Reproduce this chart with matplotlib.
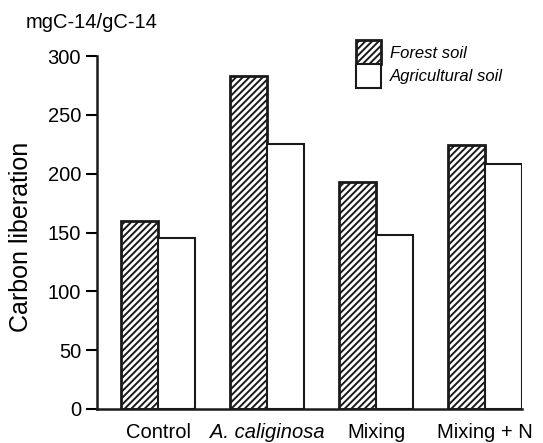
import matplotlib
matplotlib.use("Agg")
import matplotlib.pyplot as plt
from matplotlib.patches import Rectangle
import numpy as np

plt.rcParams['font.family'] = ['Liberation Sans', 'DejaVu Sans']
plt.rcParams['hatch.linewidth'] = 1.4

categories = ["Control", "A. caliginosa", "Mixing", "Mixing + N"]
forest = [160, 283, 193, 224]
agricultural = [145, 225, 148, 208]
yticks = [0, 50, 100, 150, 200, 250, 300]
series_labels = ["Forest soil", "Agricultural soil"]

W, H = 543, 443
fig = plt.figure(figsize=(W/100, H/100), dpi=100)
ax = fig.add_axes([97/W, 34/H, 425/W, 353/H])

x = np.arange(len(categories))
w = 0.34
ax.bar(x - w/2, forest, width=w, facecolor='white', edgecolor='#1a1a1a',
       hatch='/////', linewidth=2.0)
ax.bar(x + w/2, agricultural, width=w, facecolor='white', edgecolor='#1a1a1a',
       linewidth=1.5)

ax.set_xlim(-0.5596, 3.339)
ax.set_ylim(0, 300)
ax.set_yticks(yticks)
ax.set_yticklabels([str(t) for t in yticks], fontsize=14.5)
ax.set_xticks(x)
ax.set_xticklabels(categories, fontsize=14.5)
ax.get_xticklabels()[1].set_style('italic')
ax.tick_params(axis='x', length=0, pad=10)
ax.tick_params(axis='y', length=8, width=1.5, pad=3.5, direction='out')

for s in ['top', 'right']:
    ax.spines[s].set_visible(False)
for s in ['left', 'bottom']:
    ax.spines[s].set_linewidth(1.8)
    ax.spines[s].set_color('#1a1a1a')

fig.text(21/W, 1 - 237/H, "Carbon liberation", rotation=90, fontsize=18,
         ha='center', va='center')
fig.text(26/W, 1 - 22/H, "mgC-14/gC-14", fontsize=14.5, ha='left', va='center')

# legend (stacked, touching boxes)
styles = [dict(hatch='/////', linewidth=2.0), dict(hatch=None, linewidth=1.5)]
for i, (lab, st) in enumerate(zip(series_labels, styles)):
    top = 40 + 24 * i
    r = Rectangle((356/W, 1 - (top + 24)/H), 25/W, 24/H, transform=fig.transFigure,
                  facecolor='white', edgecolor='#1a1a1a', **st)
    fig.add_artist(r)
    fig.text(390/W, 1 - (top + 13)/H, lab, fontsize=12, style='italic',
             ha='left', va='center')

fig.savefig("out.png", dpi=100)
